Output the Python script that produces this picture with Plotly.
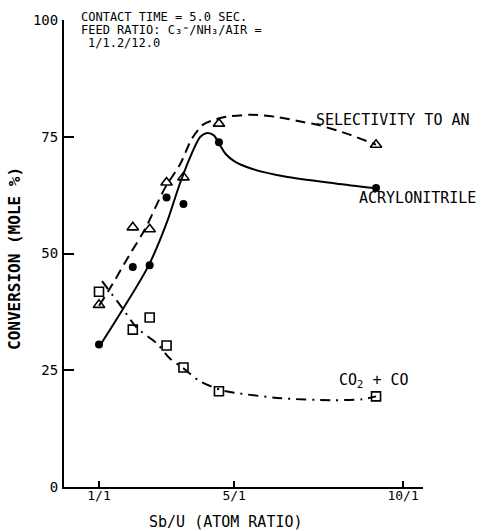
import plotly.graph_objects as go

# ---- data ----
sb_u = [1.0, 2.0, 2.5, 3.0, 3.5, 4.55, 9.2]
selectivity = [39.0, 55.6, 55.2, 65.2, 66.3, 77.8, 73.3]
acrylonitrile = [30.5, 47.1, 47.5, 62.0, 60.6, 73.8, 64.0]
co2_co = [41.8, 33.7, 36.3, 30.3, 25.6, 20.5, 19.4]

# fitted curves (hand drawn in the original)
sel_fit_x = [1.0, 1.33, 1.92, 2.36, 2.95, 3.4, 3.75, 4.08, 4.49, 4.8, 5.5, 6.3, 7.0, 7.5, 8.4, 9.2]
sel_fit_y = [38.8, 42.6, 49.9, 55.2, 64.0, 69.1, 74.6, 77.6, 78.8, 79.3, 79.7, 79.2, 78.2, 77.5, 75.5, 73.3]
an_fit_x = [1.03, 1.7, 2.46, 3.0, 3.4, 3.75, 4.0, 4.2, 4.4, 4.55, 4.75, 5.0, 5.5, 6.5, 8.0, 9.17]
an_fit_y = [30.3, 38.0, 47.3, 56.5, 65.1, 71.5, 75.0, 75.8, 75.3, 73.6, 71.3, 69.8, 68.2, 66.5, 65.0, 64.0]
co_fit_x = [1.09, 1.68, 2.12, 2.72, 3.1, 3.5, 4.0, 4.6, 5.0, 6.4, 7.9, 8.8, 9.2]
co_fit_y = [44.1, 38.4, 34.1, 30.7, 27.5, 25.4, 22.6, 20.8, 20.2, 19.0, 18.6, 18.8, 19.4]

x_tick_vals = [1, 5, 10]
x_tick_text = ["1/1", "5/1", "10/1"]
y_tick_vals = [0, 25, 50, 75, 100]
y_tick_text = ["0", "25", "50", "75", "100"]

FONT = "DejaVu Sans Mono"
fig = go.Figure()

fig.add_trace(go.Scatter(x=sel_fit_x, y=sel_fit_y, mode="lines",
                         line=dict(color="black", width=2, dash="10px,6px", shape="spline", smoothing=0.8),
                         hoverinfo="skip"))
fig.add_trace(go.Scatter(x=an_fit_x, y=an_fit_y, mode="lines",
                         line=dict(color="black", width=2, shape="spline", smoothing=0.8),
                         hoverinfo="skip"))
fig.add_trace(go.Scatter(x=co_fit_x, y=co_fit_y, mode="lines",
                         line=dict(color="black", width=2, dash="10px,6px,2px,6px", shape="spline", smoothing=0.8),
                         hoverinfo="skip"))

fig.add_trace(go.Scatter(x=sb_u, y=selectivity, mode="markers", name="Selectivity to AN",
                         marker=dict(symbol="triangle-up-open", size=10, color="black",
                                     line=dict(width=1.6, color="black"))))
fig.add_trace(go.Scatter(x=sb_u, y=acrylonitrile, mode="markers", name="Acrylonitrile",
                         marker=dict(symbol="circle", size=8, color="black")))
fig.add_trace(go.Scatter(x=sb_u, y=co2_co, mode="markers", name="CO2 + CO",
                         marker=dict(symbol="square-open", size=9, color="black",
                                     line=dict(width=1.6, color="black"))))

# header block (paper coords: plot area spans x 64..423 px, y 18..487 px)
def px_x(px):
    return (px - 64) / 359.0

def px_y(py):
    return (487 - py) / 469.0

hdr = dict(showarrow=False, xref="paper", yref="paper", xanchor="left", yanchor="middle",
           font=dict(family=FONT, size=12, color="black"))
fig.add_annotation(x=px_x(79), y=px_y(15), text="CONTACT TIME = 5.0 SEC.", **hdr)
fig.add_annotation(x=px_x(79), y=px_y(28), text="FEED RATIO: C\u2083\u207c/NH\u2083/AIR =", **hdr)
fig.add_annotation(x=px_x(86), y=px_y(41), text="1/1.2/12.0", **hdr)

lab = dict(showarrow=False, xref="paper", yref="paper", xanchor="left", yanchor="middle",
           font=dict(family=FONT, size=15, color="black"))
fig.add_annotation(x=px_x(314), y=px_y(118), text="SELECTIVITY TO AN", **lab)
fig.add_annotation(x=px_x(357), y=px_y(197), text="ACRYLONITRILE", **lab)
fig.add_annotation(x=px_x(337), y=px_y(380), text="CO<sub>2</sub> + CO", **lab)

fig.add_annotation(x=px_x(15), y=px_y(258), xref="paper", yref="paper", text="<b>CONVERSION (MOLE %)</b>",
                   textangle=-90, showarrow=False, xanchor="center", yanchor="middle",
                   font=dict(family=FONT, size=16, color="black"))
fig.add_annotation(x=px_x(226), y=px_y(522), xref="paper", yref="paper", text="Sb/U (ATOM RATIO)",
                   showarrow=False, xanchor="center", yanchor="middle",
                   font=dict(family=FONT, size=15, color="black"))

fig.update_layout(
    width=485, height=531,
    margin=dict(l=64, r=62, t=18, b=44),
    plot_bgcolor="white", paper_bgcolor="white",
    showlegend=False,
    xaxis=dict(range=[-0.036, 10.59], tickvals=x_tick_vals, ticktext=x_tick_text,
               ticks="inside", ticklen=6, tickwidth=1.5, tickcolor="black", ticklabelstandoff=-5,
               showline=True, linecolor="black", linewidth=2, showgrid=False, zeroline=False,
               tickfont=dict(family=FONT, size=13, color="black")),
    yaxis=dict(range=[0, 100], tickvals=y_tick_vals, ticktext=y_tick_text,
               ticks="inside", ticklen=10, tickwidth=1.5, tickcolor="black", ticklabelstandoff=1,
               showline=True, linecolor="black", linewidth=2, showgrid=False, zeroline=False,
               tickfont=dict(family=FONT, size=14, color="black")),
)

fig.write_html("out.html")
